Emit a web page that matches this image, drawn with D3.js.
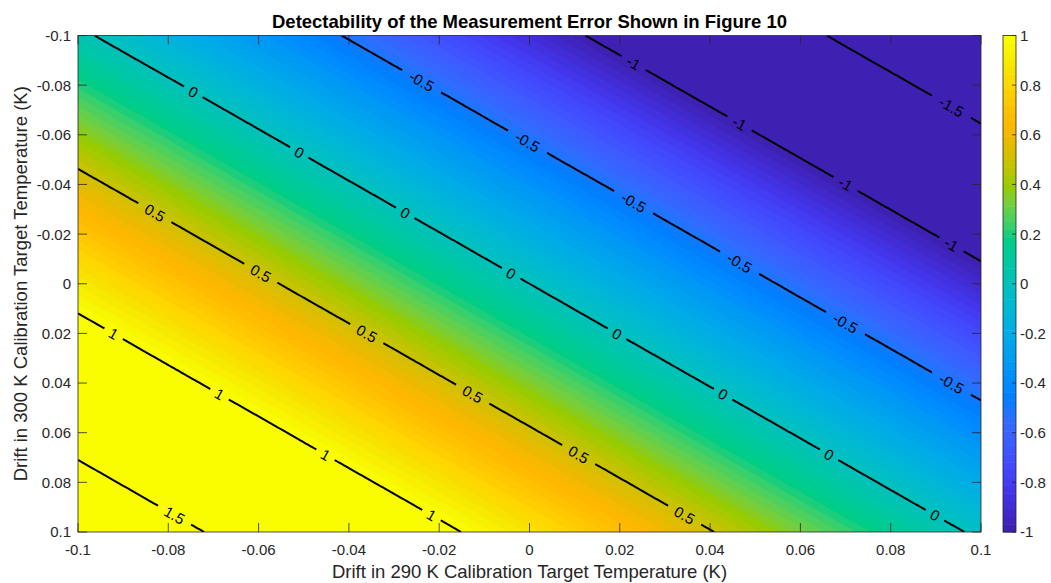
<!DOCTYPE html>
<html>
<head>
<meta charset="utf-8">
<script src="https://cdn.jsdelivr.net/npm/d3@7"></script>
<style>
  html, body { margin: 0; padding: 0; background: #ffffff; }
  svg { display: block; font-family: "Liberation Sans", Arial, Helvetica, sans-serif; }
</style>
</head>
<body>
<svg id="chart" width="1051" height="583"></svg>
<script>
// ---- data -------------------------------------------------------------
// Drift of the 290 K target (columns) and of the 300 K target (rows), in K
const drift290 = [-0.1, -0.08, -0.06, -0.04, -0.02, 0, 0.02, 0.04, 0.06, 0.08, 0.1];
const drift300 = [-0.1, -0.08, -0.06, -0.04, -0.02, 0, 0.02, 0.04, 0.06, 0.08, 0.1];

// Detectability of the measurement error, one row per 300 K drift value
const detectability = [
  [0.033, -0.149, -0.331, -0.515, -0.699, -0.885, -1.071, -1.258, -1.445, -1.634, -1.823],
  [0.208,  0.027, -0.155, -0.338, -0.522, -0.706, -0.891, -1.078, -1.265, -1.452, -1.641],
  [0.381,  0.201,  0.020, -0.162, -0.345, -0.529, -0.713, -0.898, -1.084, -1.271, -1.459],
  [0.554,  0.375,  0.194,  0.013, -0.169, -0.352, -0.535, -0.720, -0.905, -1.091, -1.278],
  [0.727,  0.548,  0.368,  0.188,  0.007, -0.175, -0.358, -0.542, -0.727, -0.912, -1.098],
  [0.898,  0.720,  0.541,  0.362,  0.181,  0.000, -0.182, -0.365, -0.549, -0.733, -0.919],
  [1.069,  0.891,  0.713,  0.535,  0.355,  0.175, -0.007, -0.189, -0.372, -0.555, -0.740],
  [1.238,  1.062,  0.885,  0.707,  0.528,  0.349,  0.168, -0.013, -0.195, -0.378, -0.562],
  [1.408,  1.232,  1.056,  0.878,  0.700,  0.522,  0.342,  0.161, -0.020, -0.202, -0.385],
  [1.576,  1.401,  1.226,  1.049,  0.872,  0.694,  0.515,  0.335,  0.155, -0.027, -0.209],
  [1.743,  1.569,  1.395,  1.219,  1.043,  0.865,  0.687,  0.508,  0.329,  0.148, -0.033]
];

const contourLevels = [-1.5, -1, -0.5, 0, 0.5, 1, 1.5];
const colorLimits = [-1, 1];
const xTicks = [-0.1, -0.08, -0.06, -0.04, -0.02, 0, 0.02, 0.04, 0.06, 0.08, 0.1];
const yTicks = [-0.1, -0.08, -0.06, -0.04, -0.02, 0, 0.02, 0.04, 0.06, 0.08, 0.1];
const colorbarTicks = [-1, -0.8, -0.6, -0.4, -0.2, 0, 0.2, 0.4, 0.6, 0.8, 1];

const titleText = "Detectability of the Measurement Error Shown in Figure 10";
const xLabelText = "Drift in 290 K Calibration Target Temperature (K)";
const yLabelText = "Drift in 300 K Calibration Target Temperature (K)";

// 64-entry parula colormap
const parula = [
  [0.2422,0.1504,0.6603],[0.2504,0.1650,0.7076],[0.2578,0.1818,0.7511],[0.2647,0.1978,0.7952],
  [0.2706,0.2147,0.8364],[0.2751,0.2342,0.8710],[0.2783,0.2559,0.8991],[0.2803,0.2782,0.9221],
  [0.2813,0.3006,0.9414],[0.2810,0.3228,0.9579],[0.2795,0.3447,0.9717],[0.2760,0.3667,0.9829],
  [0.2699,0.3892,0.9906],[0.2602,0.4123,0.9952],[0.2440,0.4358,0.9988],[0.2206,0.4603,0.9973],
  [0.1963,0.4847,0.9892],[0.1834,0.5074,0.9798],[0.1786,0.5289,0.9682],[0.1764,0.5499,0.9520],
  [0.1687,0.5703,0.9359],[0.1540,0.5902,0.9218],[0.1460,0.6091,0.9079],[0.1380,0.6276,0.8973],
  [0.1248,0.6459,0.8883],[0.1113,0.6635,0.8763],[0.0952,0.6798,0.8598],[0.0689,0.6948,0.8394],
  [0.0297,0.7082,0.8163],[0.0036,0.7203,0.7917],[0.0067,0.7312,0.7660],[0.0433,0.7411,0.7394],
  [0.0964,0.7500,0.7120],[0.1408,0.7584,0.6842],[0.1717,0.7670,0.6554],[0.1938,0.7758,0.6251],
  [0.2161,0.7843,0.5923],[0.2470,0.7918,0.5567],[0.2906,0.7973,0.5188],[0.3406,0.8008,0.4789],
  [0.3909,0.8029,0.4354],[0.4456,0.8024,0.3909],[0.5044,0.7993,0.3480],[0.5616,0.7942,0.3045],
  [0.6174,0.7876,0.2612],[0.6720,0.7793,0.2227],[0.7242,0.7698,0.1910],[0.7738,0.7598,0.1646],
  [0.8203,0.7498,0.1535],[0.8634,0.7406,0.1596],[0.9035,0.7330,0.1774],[0.9393,0.7288,0.2100],
  [0.9728,0.7298,0.2394],[0.9956,0.7434,0.2371],[0.9970,0.7659,0.2199],[0.9952,0.7893,0.2028],
  [0.9892,0.8136,0.1885],[0.9786,0.8386,0.1766],[0.9676,0.8639,0.1643],[0.9610,0.8890,0.1537],
  [0.9597,0.9135,0.1423],[0.9628,0.9373,0.1265],[0.9691,0.9606,0.1064],[0.9769,0.9839,0.0805]
];

// ---- layout -----------------------------------------------------------
const W = 1051, H = 583;
const X0 = 78, X1 = 981, Y0 = 35.5, Y1 = 532;
const CB_X0 = 1003, CB_X1 = 1016;
const AXIS_COLOR = "#262626";
const TICK_LEN = 9;

const svg = d3.select("#chart");
const x = d3.scaleLinear().domain([drift290[0], drift290[drift290.length - 1]]).range([X0, X1]);
const y = d3.scaleLinear().domain([drift300[0], drift300[drift300.length - 1]]).range([Y0, Y1]);

const palette = parula.map(c => d3.rgb(c[0] * 255, c[1] * 255, c[2] * 255).formatHex());

// bilinear lookup in the detectability table
function fieldAt(xv, yv) {
  const n = drift290.length, m = drift300.length;
  const i = Math.max(0, Math.min(n - 2, d3.bisectRight(drift290, xv) - 1));
  const j = Math.max(0, Math.min(m - 2, d3.bisectRight(drift300, yv) - 1));
  const tx = (xv - drift290[i]) / (drift290[i + 1] - drift290[i]);
  const ty = (yv - drift300[j]) / (drift300[j + 1] - drift300[j]);
  const a = detectability[j][i], b = detectability[j][i + 1];
  const c = detectability[j + 1][i], d = detectability[j + 1][i + 1];
  return (a * (1 - tx) + b * tx) * (1 - ty) + (c * (1 - tx) + d * tx) * ty;
}

// fine sampling grid for the shaded surface and the contour lines
const NX = 301, NY = 166;
const gx = d3.scaleLinear().domain([0, NX - 1]).range(x.domain());
const gy = d3.scaleLinear().domain([0, NY - 1]).range(y.domain());
const values = new Float64Array(NX * NY);
for (let j = 0; j < NY; j++) {
  for (let i = 0; i < NX; i++) values[j * NX + i] = fieldAt(gx(i), gy(j));
}
// contour coordinates put sample k at k + 0.5
const toPx = p => [x(gx(p[0] - 0.5)), y(gy(p[1] - 0.5))];
const gridPath = d3.geoPath(d3.geoTransform({
  point(px, py) { const q = toPx([px, py]); this.stream.point(q[0], q[1]); }
}));

const defs = svg.append("defs");
defs.append("clipPath").attr("id", "plotClip")
  .append("rect").attr("x", X0).attr("y", Y0).attr("width", X1 - X0).attr("height", Y1 - Y0);
defs.append("filter").attr("id", "vivid")
  .append("feColorMatrix").attr("type", "saturate").attr("values", 1.15);

// ---- shaded surface (64 colour bands) ----------------------------------
const surface = svg.append("g").attr("clip-path", "url(#plotClip)")
  .append("g").attr("filter", "url(#vivid)");
surface.append("rect")
  .attr("x", X0).attr("y", Y0).attr("width", X1 - X0).attr("height", Y1 - Y0)
  .attr("fill", palette[0]);
const step = (colorLimits[1] - colorLimits[0]) / palette.length;
const bandEdges = d3.range(1, palette.length).map(k => colorLimits[0] + k * step);
const bands = d3.contours().size([NX, NY]).thresholds(bandEdges)(values);
surface.selectAll("path.band")
  .data(bands)
  .join("path")
  .attr("class", "band")
  .attr("d", gridPath)
  .attr("fill", (d, k) => palette[k + 1])
  .attr("stroke", (d, k) => palette[k + 1])
  .attr("stroke-width", 0.4);

// ---- contour lines ------------------------------------------------------
function interiorRuns(ring) {
  const pts = ring.slice(0, -1);
  const eps = 1e-6;
  const inside = p => p[0] > 0.5 - eps && p[0] < NX - 0.5 + eps && p[1] > 0.5 - eps && p[1] < NY - 0.5 + eps;
  const start = pts.findIndex(p => !inside(p));
  if (start < 0) return [pts.concat([pts[0]])];
  const runs = [];
  let cur = [];
  for (let k = 1; k <= pts.length; k++) {
    const p = pts[(start + k) % pts.length];
    if (inside(p)) cur.push(p);
    else { if (cur.length > 1) runs.push(cur); cur = []; }
  }
  if (cur.length > 1) runs.push(cur);
  return runs;
}

const lines = [];
contourLevels.forEach(level => {
  const geo = d3.contours().size([NX, NY]).thresholds([level])(values)[0];
  geo.coordinates.forEach(poly => poly.forEach(ring => {
    interiorRuns(ring).forEach(run => {
      let pts = run.map(toPx);
      if (pts[0][0] > pts[pts.length - 1][0]) pts = pts.reverse();
      lines.push({ level, pts });
    });
  }));
});

// label placement along each line, counted back from its lower-right end
const LABEL_END = 34, LABEL_SPACING = 122, LABEL_START_MIN = 30;
function pointAt(pts, cum, s) {
  s = Math.max(0, Math.min(cum[cum.length - 1], s));
  let k = d3.bisectRight(cum, s) - 1;
  k = Math.max(0, Math.min(pts.length - 2, k));
  const seg = cum[k + 1] - cum[k] || 1;
  const t = (s - cum[k]) / seg;
  return [pts[k][0] + (pts[k + 1][0] - pts[k][0]) * t, pts[k][1] + (pts[k + 1][1] - pts[k][1]) * t];
}
const labels = [];
lines.forEach(ln => {
  const cum = [0];
  for (let k = 1; k < ln.pts.length; k++) {
    cum.push(cum[k - 1] + Math.hypot(ln.pts[k][0] - ln.pts[k - 1][0], ln.pts[k][1] - ln.pts[k - 1][1]));
  }
  const L = cum[cum.length - 1];
  for (let s = L - LABEL_END; s >= LABEL_START_MIN; s -= LABEL_SPACING) {
    const p = pointAt(ln.pts, cum, s);
    const a = pointAt(ln.pts, cum, s - 8), b = pointAt(ln.pts, cum, s + 8);
    let ang = Math.atan2(b[1] - a[1], b[0] - a[0]) * 180 / Math.PI;
    if (ang > 90) ang -= 180;
    if (ang < -90) ang += 180;
    labels.push({ level: ln.level, x: p[0], y: p[1], angle: ang });
  }
});

const fmtLevel = v => String(v);

// labels are drawn first so their widths can size the gaps in the lines
const labelGroup = svg.append("g").attr("clip-path", "url(#plotClip)");
labelGroup.selectAll("text")
  .data(labels)
  .join("text")
  .attr("transform", d => `translate(${d.x},${d.y}) rotate(${d.angle})`)
  .attr("text-anchor", "middle")
  .attr("dy", "0.36em")
  .attr("font-size", 15)
  .attr("fill", "#000")
  .text(d => fmtLevel(d.level))
  .each(function (d) { d.w = this.getComputedTextLength(); });

const mask = defs.append("mask").attr("id", "labelGaps")
  .attr("maskUnits", "userSpaceOnUse")
  .attr("x", 0).attr("y", 0).attr("width", W).attr("height", H);
mask.append("rect").attr("x", 0).attr("y", 0).attr("width", W).attr("height", H).attr("fill", "#fff");
mask.selectAll("rect.gap")
  .data(labels)
  .join("rect")
  .attr("class", "gap")
  .attr("x", d => -(d.w * 1.35 + 10) / 2)
  .attr("y", -9)
  .attr("width", d => d.w * 1.35 + 10)
  .attr("height", 18)
  .attr("transform", d => `translate(${d.x},${d.y}) rotate(${d.angle})`)
  .attr("fill", "#000");

const lineGroup = svg.insert("g", () => labelGroup.node())
  .attr("clip-path", "url(#plotClip)");
lineGroup.append("g")
  .attr("mask", "url(#labelGaps)")
  .selectAll("path")
  .data(lines)
  .join("path")
  .attr("d", d => d3.line()(d.pts))
  .attr("fill", "none")
  .attr("stroke", "#000")
  .attr("stroke-width", 2)
  .attr("stroke-linejoin", "round");

// ---- axes ---------------------------------------------------------------
const axes = svg.append("g").attr("stroke", AXIS_COLOR).attr("stroke-width", 0.8).attr("fill", "none");
axes.append("rect").attr("x", X0).attr("y", Y0).attr("width", X1 - X0).attr("height", Y1 - Y0);
xTicks.forEach(t => {
  axes.append("line").attr("x1", x(t)).attr("x2", x(t)).attr("y1", Y1).attr("y2", Y1 - TICK_LEN);
  axes.append("line").attr("x1", x(t)).attr("x2", x(t)).attr("y1", Y0).attr("y2", Y0 + TICK_LEN);
});
yTicks.forEach(t => {
  axes.append("line").attr("x1", X0).attr("x2", X0 + TICK_LEN).attr("y1", y(t)).attr("y2", y(t));
  axes.append("line").attr("x1", X1).attr("x2", X1 - TICK_LEN).attr("y1", y(t)).attr("y2", y(t));
});

const fmtTick = v => (Math.abs(v) < 1e-12 ? "0" : String(+v.toFixed(2)));
svg.append("g").selectAll("text")
  .data(xTicks).join("text")
  .attr("x", d => x(d)).attr("y", 555)
  .attr("text-anchor", "middle")
  .attr("font-size", 15).attr("fill", AXIS_COLOR)
  .text(fmtTick);
svg.append("g").selectAll("text")
  .data(yTicks).join("text")
  .attr("x", 71).attr("y", d => y(d))
  .attr("dy", "0.36em")
  .attr("text-anchor", "end")
  .attr("font-size", 15).attr("fill", AXIS_COLOR)
  .text(fmtTick);

svg.append("text")
  .attr("x", (X0 + X1) / 2).attr("y", 578)
  .attr("text-anchor", "middle")
  .attr("font-size", 18.5).attr("fill", AXIS_COLOR)
  .text(xLabelText);
svg.append("text")
  .attr("transform", `translate(27,${(Y0 + Y1) / 2}) rotate(-90)`)
  .attr("text-anchor", "middle")
  .attr("font-size", 18.5).attr("fill", AXIS_COLOR)
  .text(yLabelText);
svg.append("text")
  .attr("x", (X0 + X1) / 2).attr("y", 28)
  .attr("text-anchor", "middle")
  .attr("font-size", 18.5).attr("font-weight", "bold").attr("fill", "#000")
  .text(titleText);

// ---- colour bar -----------------------------------------------------------
const cbY = d3.scaleLinear().domain(colorLimits).range([Y1, Y0]);
const cb = svg.append("g");
cb.append("g").attr("filter", "url(#vivid)")
  .selectAll("rect.swatch")
  .data(palette)
  .join("rect")
  .attr("class", "swatch")
  .attr("x", CB_X0)
  .attr("width", CB_X1 - CB_X0)
  .attr("y", (d, k) => cbY(colorLimits[0] + (k + 1) * step))
  .attr("height", (d, k) => cbY(colorLimits[0] + k * step) - cbY(colorLimits[0] + (k + 1) * step) + 0.5)
  .attr("fill", d => d);
cb.append("rect")
  .attr("x", CB_X0).attr("y", Y0).attr("width", CB_X1 - CB_X0).attr("height", Y1 - Y0)
  .attr("fill", "none").attr("stroke", AXIS_COLOR).attr("stroke-width", 0.8);
cb.selectAll("line.cbtick")
  .data(colorbarTicks)
  .join("line")
  .attr("class", "cbtick")
  .attr("x1", CB_X1 - 4).attr("x2", CB_X1)
  .attr("y1", d => cbY(d)).attr("y2", d => cbY(d))
  .attr("stroke", AXIS_COLOR).attr("stroke-width", 0.8);
cb.selectAll("text.cblabel")
  .data(colorbarTicks)
  .join("text")
  .attr("class", "cblabel")
  .attr("x", 1020).attr("y", d => cbY(d))
  .attr("dy", "0.36em")
  .attr("font-size", 15).attr("fill", AXIS_COLOR)
  .text(d => (Math.abs(d) < 1e-12 ? "0" : String(+d.toFixed(1))));
</script>
</body>
</html>
